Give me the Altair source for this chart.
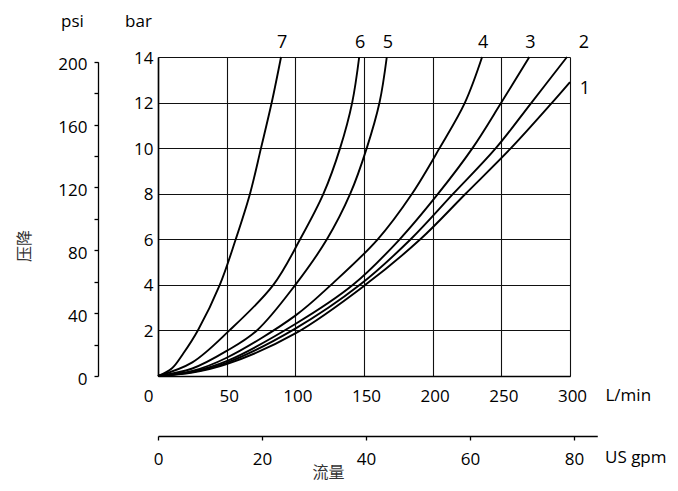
import altair as alt
import pandas as pd

# ---- data (flow L/min, pressure drop bar) ----
flow_1 = [0, 25, 50, 100, 151, 191, 224, 257, 287, 300]
bar_1 = [0, 0.15, 0.52, 1.87, 4, 6, 8, 10, 12, 12.9]
flow_2 = [0, 25, 50, 100, 147, 184, 215, 246, 272, 297.8]
bar_2 = [0, 0.17, 0.58, 2.08, 4, 6, 8, 10, 12, 14]
flow_3 = [0, 25, 50, 100, 142, 176, 204, 229, 250, 270.4]
bar_3 = [0, 0.19, 0.65, 2.28, 4, 6, 8, 10, 12, 14]
flow_4 = [0, 25, 50, 100, 126, 160, 185, 205, 223.5, 236]
bar_4 = [0, 0.22, 0.8, 2.65, 4, 6, 8, 10, 12, 14]
flow_5 = [0, 25, 50, 72, 100, 123, 140, 152, 161.3, 166.6]
bar_5 = [0, 0.33, 1.1, 2, 4, 6, 8, 10, 12, 14]
flow_6 = [0, 25, 52, 84, 103.5, 120.5, 132.6, 141.4, 146.5]
bar_6 = [0, 0.6, 2, 4, 6, 8, 10, 12, 14]
flow_7 = [0, 10, 18.5, 29, 45, 56.6, 67, 75, 82.8, 89.6]
bar_7 = [0, 0.33, 1, 2, 4, 6, 8, 10, 12, 14]

curve_names = ["1", "2", "3", "4", "5", "6", "7"]
flows = [flow_1, flow_2, flow_3, flow_4, flow_5, flow_6, flow_7]
bars = [bar_1, bar_2, bar_3, bar_4, bar_5, bar_6, bar_7]

x_ticks = [0, 50, 100, 150, 200, 250, 300]
bar_ticks = [0, 2, 4, 6, 8, 10, 12, 14]
psi_ticks = [0, 20, 40, 60, 80, 100, 120, 140, 160, 180, 200]
gpm_ticks = [0, 20, 40, 60, 80]
gpm_axis_end = 84.5

rows = []
for name, fl, br in zip(curve_names, flows, bars):
    for f, b in zip(fl, br):
        rows.append({"curve": name, "flow": f, "bar": b})
df = pd.DataFrame(rows)
ends = pd.DataFrame([{"curve": n, "flow": fl[-1], "bar": br[-1]}
                     for n, fl, br in zip(curve_names, flows, bars)])

FONT = "Open Sans"
CJK = "Noto Sans CJK SC"
FS = 17
W, H = 412, 319
BAR_MAX = 14
PSI_PER_BAR = 14.5038

x_enc = alt.X(
    "flow:Q",
    scale=alt.Scale(domain=[0, 300], nice=False),
    axis=alt.Axis(
        values=x_ticks, grid=True, gridColor="#111", gridWidth=1.1, gridOpacity=1,
        ticks=False, domainColor="black", domainWidth=1.6,
        labelFont=FONT, labelFontSize=FS, labelColor="black", labelPadding=12,
        labelFlush=False, labelOverlap=False,
        labelOffset={"condition": {"test": "datum.value === 0", "value": -10}, "value": 2},
        title="L/min", titleX=447, titleY=19, titleAlign="left", titleBaseline="middle",
        titleFont=FONT, titleFontSize=FS, titleFontWeight="normal", titleColor="black",
    ),
)
y_enc = alt.Y(
    "bar:Q",
    scale=alt.Scale(domain=[0, BAR_MAX], nice=False),
    axis=alt.Axis(
        values=bar_ticks, labelExpr="datum.value == 0 ? '' : datum.label",
        grid=True, gridColor="#111", gridWidth=1.1, gridOpacity=1,
        ticks=False, domainColor="black", domainWidth=1.6,
        labelFont=FONT, labelFontSize=FS, labelColor="black", labelPadding=5,
        labelOffset=1, labelOverlap=False, labelFlush=False,
        title="bar", titleAngle=0, titleX=-20, titleY=-36, titleAlign="center",
        titleBaseline="middle", titleFont=FONT, titleFontSize=FS,
        titleFontWeight="normal", titleColor="black",
    ),
)

curves = alt.Chart(df).mark_line(color="black", strokeWidth=1.9, interpolate="catmull-rom").encode(
    x=x_enc, y=y_enc, detail="curve:N"
)
lbl_top = alt.Chart(ends).transform_filter(
    "datum.curve != '1' && datum.curve != '2'"
).mark_text(font=FONT, fontSize=18, color="black", dy=-14, dx=1, baseline="middle").encode(
    x=x_enc, y=y_enc, text="curve:N"
)
lbl_2 = alt.Chart(ends).transform_filter("datum.curve == '2'").mark_text(
    font=FONT, fontSize=18, color="black", dy=-14, dx=17, baseline="middle"
).encode(x=x_enc, y=y_enc, text="curve:N")
lbl_1 = alt.Chart(ends).transform_filter("datum.curve == '1'").mark_text(
    font=FONT, fontSize=18, color="black", dy=7, dx=15, baseline="middle"
).encode(x=x_enc, y=y_enc, text="curve:N")

inner = alt.layer(curves, lbl_top, lbl_2, lbl_1)

psi_top_px = H - (psi_ticks[-1] / PSI_PER_BAR) * H / BAR_MAX
psi_layer = alt.Chart(pd.DataFrame({"psi": psi_ticks})).mark_point(opacity=0).encode(
    y=alt.Y(
        "psi:Q",
        scale=alt.Scale(domain=[0, psi_ticks[-1]], range=[H, psi_top_px], nice=False),
        axis=alt.Axis(
            orient="left", offset=60, values=psi_ticks,
            labelExpr="datum.value % 40 == 0 ? datum.label : ''",
            tickSize=4, tickColor="black", tickWidth=1.3,
            domainColor="black", domainWidth=1.3, grid=False,
            labelFont=FONT, labelFontSize=FS, labelColor="black", labelPadding=7,
            labelOffset=3, labelOverlap=False, labelFlush=False,
            title="psi", titleAngle=0, titleX=-26, titleY=-36, titleAlign="center",
            titleBaseline="middle", titleFont=FONT, titleFontSize=FS,
            titleFontWeight="normal", titleColor="black",
        ),
    )
)

gpm_px = gpm_axis_end * 3.78541 * W / 300
gpm_layer = alt.Chart(pd.DataFrame({"gpm": gpm_ticks})).mark_point(opacity=0).encode(
    x=alt.X(
        "gpm:Q",
        scale=alt.Scale(domain=[0, gpm_axis_end], range=[0, gpm_px], nice=False),
        axis=alt.Axis(
            orient="bottom", offset=60, values=gpm_ticks,
            tickSize=4, tickColor="black", tickWidth=1.3,
            domainColor="black", domainWidth=1.3, grid=False,
            labelFont=FONT, labelFontSize=FS, labelColor="black", labelPadding=11,
            labelOverlap=False, labelFlush=False,
            title="流量", titleX=170, titleY=36, titleAlign="center",
            titleBaseline="middle", titleFont=CJK, titleFontSize=16,
            titleFontWeight="normal", titleColor="#333",
        ),
    )
)

gpm_title = alt.Chart(pd.DataFrame({"t": ["US gpm"]})).mark_text(
    font=FONT, fontSize=FS, color="black", align="left", baseline="middle"
).encode(text="t:N", x=alt.value(447), y=alt.value(401))

ytitle = alt.Chart(pd.DataFrame({"t": ["压降"]})).mark_text(
    font=CJK, fontSize=16, color="#333", angle=270, align="center", baseline="middle"
).encode(text="t:N", x=alt.value(-133), y=alt.value(189))

chart = alt.layer(inner, psi_layer, gpm_layer, gpm_title, ytitle).resolve_scale(
    x="independent", y="independent"
).properties(
    width=W, height=H,
    padding={"left": 150, "top": 49, "right": 96, "bottom": 106},
    autosize="none", background="white",
).configure_view(strokeWidth=0)

chart.save("out.html", embed_options={"renderer": "svg", "actions": False})
